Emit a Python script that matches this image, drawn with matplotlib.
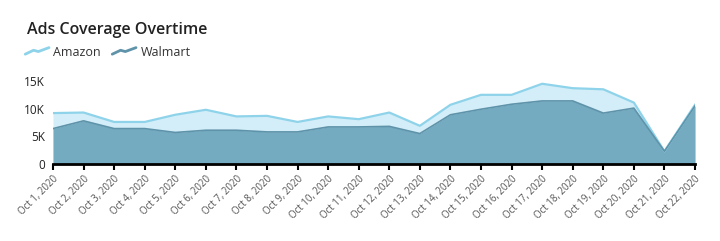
import matplotlib
matplotlib.use("Agg")
import matplotlib.pyplot as plt
from matplotlib.lines import Line2D
from matplotlib.legend_handler import HandlerBase
import numpy as np

dates = ["Oct 1, 2020", "Oct 2, 2020", "Oct 3, 2020", "Oct 4, 2020", "Oct 5, 2020",
         "Oct 6, 2020", "Oct 7, 2020", "Oct 8, 2020", "Oct 9, 2020", "Oct 10, 2020",
         "Oct 11, 2020", "Oct 12, 2020", "Oct 13, 2020", "Oct 14, 2020", "Oct 15, 2020",
         "Oct 16, 2020", "Oct 17, 2020", "Oct 18, 2020", "Oct 19, 2020", "Oct 20, 2020",
         "Oct 21, 2020", "Oct 22, 2020"]
amazon = [9200, 9300, 7600, 7600, 8900, 9800, 8600, 8700, 7600, 8600,
          8100, 9300, 6900, 10700, 12500, 12500, 14500, 13700, 13500, 11100,
          2300, 10700]
walmart = [6400, 7800, 6400, 6400, 5700, 6100, 6100, 5800, 5800, 6700,
           6700, 6800, 5500, 8900, 9900, 10800, 11400, 11400, 9200, 10100,
           2300, 10500]
yticks = [0, 5000, 10000, 15000]
ytick_labels = ["0", "5K", "10K", "15K"]

amazon_fill, amazon_line = "#d3eef8", "#8ed3ea"
walmart_fill, walmart_line = "#74abc0", "#5f93aa"

plt.rcParams['font.family'] = ['Open Sans', 'DejaVu Sans']

fig = plt.figure(figsize=(7.2, 2.41), dpi=100)
W, H = 720, 241
left, right, top, bottom = 53, 695, 81, 164
ax = fig.add_axes([left / W, 1 - bottom / H, (right - left) / W, (bottom - top) / H])

x = np.arange(len(dates))
ax.fill_between(x, 0, amazon, color=amazon_fill, lw=0)
ax.plot(x, amazon, color=amazon_line, lw=1.6)
ax.fill_between(x, 0, walmart, color=walmart_fill, lw=0)
ax.plot(x, walmart, color=walmart_line, lw=1.2)

ax.set_xlim(0, len(dates) - 1)
ax.set_ylim(0, 15000)
ax.set_yticks(yticks)
ax.set_yticklabels(ytick_labels, fontsize=8.5, color="#222222")
ax.set_xticks(x)
ax.set_xticklabels(dates, rotation=45, ha="right", rotation_mode="anchor",
                   fontsize=7, color="#555555")
ax.tick_params(axis="y", length=0, pad=6)
ax.tick_params(axis="x", length=4, width=1.5, color="black", pad=3)
for s in ["top", "right", "left"]:
    ax.spines[s].set_visible(False)
ax.spines["bottom"].set_linewidth(2)
ax.spines["bottom"].set_color("black")

fig.text(27 / W, 1 - 30 / H, "Ads Coverage Overtime", fontsize=11.5,
         fontweight="semibold", color="#222222", va="center", ha="left")


class ZigzagHandler(HandlerBase):
    def create_artists(self, legend, orig_handle, xdescent, ydescent,
                       width, height, fontsize, trans):
        xs = np.array([0, 0.35, 0.55, 1.0]) * width - xdescent
        ys = np.array([0.15, 0.6, 0.45, 0.9]) * height - ydescent
        line = Line2D(xs, ys, color=orig_handle.get_color(), lw=2,
                      solid_joinstyle="round", solid_capstyle="round")
        line.set_transform(trans)
        return [line]


handles = [Line2D([], [], color=amazon_line), Line2D([], [], color=walmart_line)]
fig.legend(handles, ["Amazon", "Walmart"], loc="center left",
           bbox_to_anchor=(14 / W, 1 - 52 / H), ncol=2, frameon=False,
           fontsize=9, handlelength=1.9, handletextpad=0.35, columnspacing=0.9,
           handler_map={Line2D: ZigzagHandler()}, labelcolor="#333333")

fig.savefig("out.png", dpi=100, facecolor="white")
